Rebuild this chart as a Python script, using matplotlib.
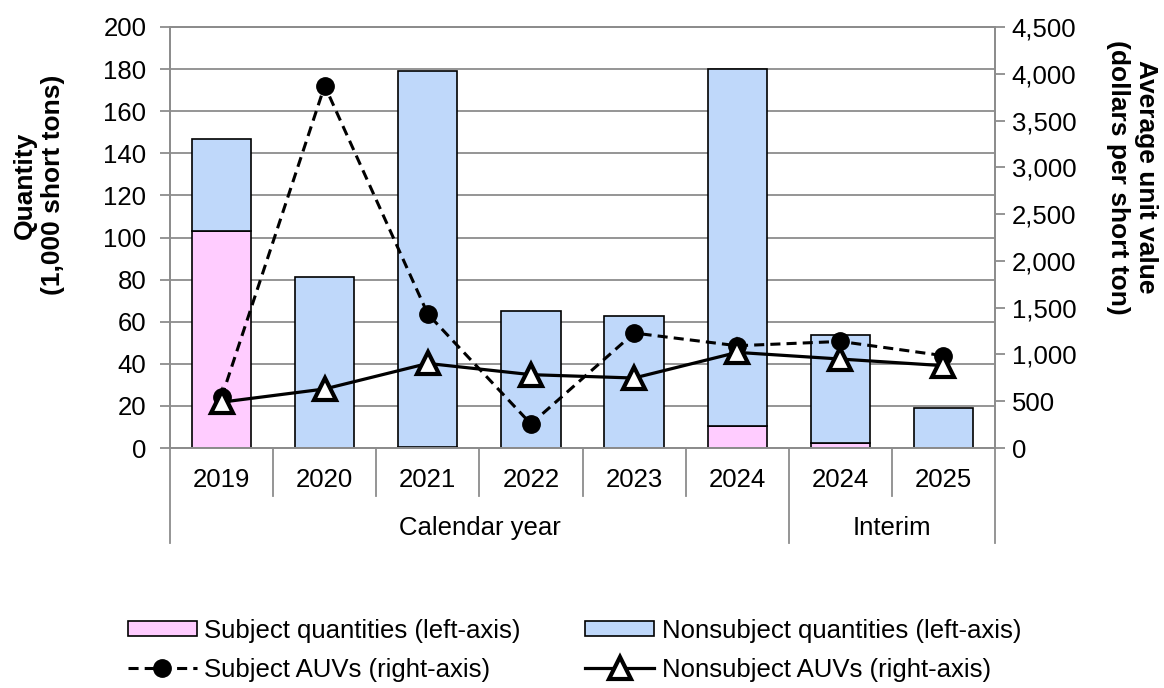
import matplotlib.pyplot as plt
import numpy as np

plt.rcParams['font.family'] = ['Liberation Sans', 'DejaVu Sans']

# categorias e valores
anos = ["2019", "2020", "2021", "2022", "2023", "2024", "2024", "2025"]
grupos = ["Calendar year", "Interim"]
tamanho_grupos = [6, 2]

subject_qtd = [103.0, 0.0, 0.3, 0.0, 0.0, 10.3, 2.2, 0.0]
total_qtd = [147.0, 81.0, 179.0, 65.0, 62.5, 180.0, 53.6, 18.9]
nonsubject_qtd = [t - s for t, s in zip(total_qtd, subject_qtd)]

subject_auv = [541, 3872, 1432, 257, 1229, 1093, 1139, 987]
nonsubject_auv = [490, 631, 904, 784, 748, 1022, 951, 880]

cor_rosa = '#FFCCFF'
cor_azul = '#BFD8FA'
cinza = '#8C8C8C'
fs = 18.5
fs_titulo = 19

fig = plt.figure(figsize=(11.64, 6.88), dpi=100)
ax = fig.add_axes([170 / 1164, 1 - 448 / 688, 825 / 1164, 421 / 688])
ax2 = ax.twinx()

x = np.arange(len(anos))
largura = 0.575

ax.bar(x, subject_qtd, largura, color=cor_rosa, edgecolor='black', linewidth=1.2,
       label='Subject quantities (left-axis)')
ax.bar(x, nonsubject_qtd, largura, bottom=subject_qtd, color=cor_azul, edgecolor='black',
       linewidth=1.2, label='Nonsubject quantities (left-axis)')

ax2.plot(x, subject_auv, color='black', linestyle=(0, (3.3, 2)), linewidth=2.2,
         marker='o', markersize=12.5, markerfacecolor='black', markeredgecolor='black',
         label='Subject AUVs (right-axis)')
ax2.plot(x, nonsubject_auv, color='black', linestyle='-', linewidth=2.3,
         marker='^', markersize=15.5, markerfacecolor='white', markeredgecolor='black',
         markeredgewidth=3, label='Nonsubject AUVs (right-axis)')

ax.set_xlim(-0.5, len(anos) - 0.5)
ax.set_ylim(0, 200)
ax.set_yticks(np.arange(0, 201, 20))
ax2.set_ylim(0, 4500)
ax2.set_yticks(np.arange(0, 4501, 500))
ax2.set_yticklabels([f"{v:,}" for v in range(0, 4501, 500)])

ax.set_axisbelow(True)
ax.yaxis.grid(True, color=cinza, linewidth=1.3)
ax.set_xticks([])

for a in (ax, ax2):
    for s in a.spines.values():
        s.set_color(cinza)
        s.set_linewidth(1.3)
    a.tick_params(axis='y', labelsize=fs, length=7, width=1.3, color=cinza)
ax.tick_params(axis='y', pad=10)
ax2.tick_params(axis='y', pad=5)

# títulos dos eixos
fig.text(39 / 1164, 1 - 185 / 688, "Quantity\n(1,000 short tons)", rotation=90,
         ha='center', va='center', fontsize=fs_titulo, fontweight='bold', linespacing=1.2)
fig.text(1132 / 1164, 1 - 177 / 688, "Average unit value\n(dollars per short ton)", rotation=-90,
         ha='center', va='center', fontsize=fs_titulo, fontweight='bold', linespacing=1.2)

# eixo de categorias em dois níveis
trans = ax.get_xaxis_transform()
for i, ano in enumerate(anos):
    ax.text(i, -0.076, ano, transform=trans, ha='center', va='center', fontsize=fs)

limites = np.cumsum([0] + tamanho_grupos) - 0.5
for i in range(len(anos) + 1):
    pos = i - 0.5
    fundo = -0.226 if pos in limites else -0.114
    ax.plot([pos, pos], [0, fundo], transform=trans, color=cinza, linewidth=1.3, clip_on=False)

for g, ini, fim in zip(grupos, limites[:-1], limites[1:]):
    ax.text((ini + fim) / 2, -0.19, g, transform=trans, ha='center', va='center', fontsize=fs)

h1, l1 = ax.get_legend_handles_labels()
h2, l2 = ax2.get_legend_handles_labels()
handles = [h1[0], h2[0], h1[1], h2[1]]
labels = [l1[0], l2[0], l1[1], l2[1]]
fig.legend(handles, labels, loc='center left', bbox_to_anchor=(0.090, 0.055), ncol=2,
           frameon=False, fontsize=fs, handlelength=2.68, handleheight=0.48, handletextpad=0.3,
           columnspacing=2.5, labelspacing=0.58)

fig.savefig('out.png', dpi=100)
